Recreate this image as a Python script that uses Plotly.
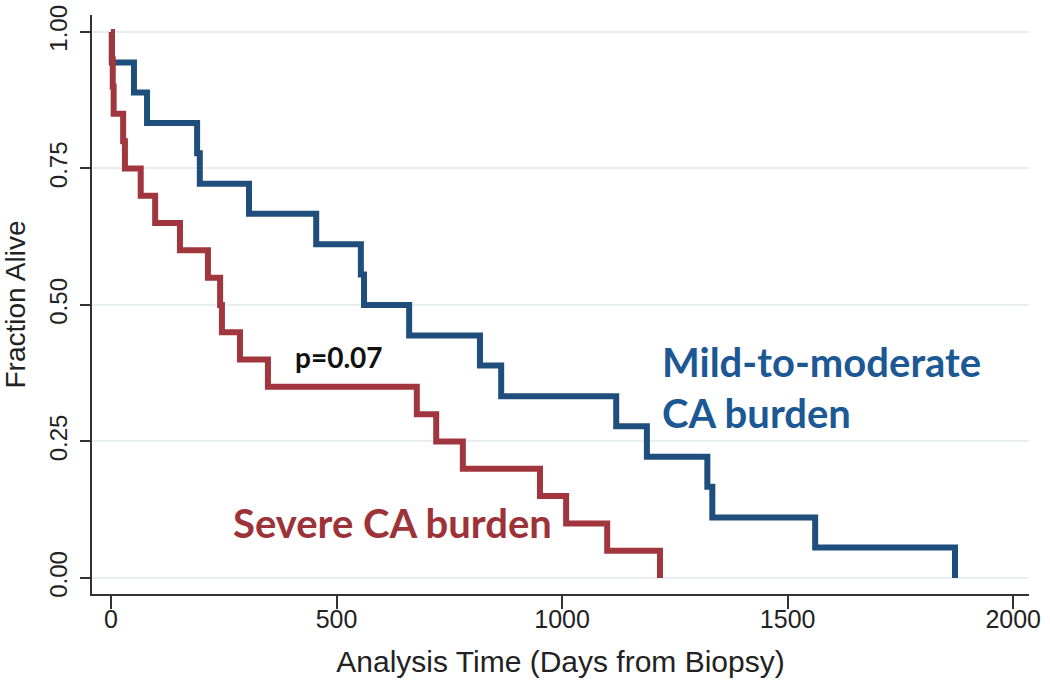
import plotly.graph_objects as go

# Mild-to-moderate CA burden (blue) Kaplan-Meier steps
mild_days = [0, 2, 51, 80, 191, 197, 306, 455, 554, 561, 661, 818, 865, 1120, 1188, 1322, 1333, 1561, 1871]
mild_surv = [1.0, 0.944, 0.889, 0.833, 0.778, 0.722, 0.667, 0.611, 0.556, 0.5, 0.444, 0.389, 0.333, 0.278, 0.222, 0.167, 0.111, 0.056, 0.0]

# Severe CA burden (red) Kaplan-Meier steps
severe_days = [0, 2, 4, 6, 27, 31, 66, 98, 153, 215, 242, 246, 286, 348, 678, 721, 780, 951, 1009, 1100, 1217]
severe_surv = [1.0, 0.95, 0.90, 0.85, 0.80, 0.75, 0.70, 0.65, 0.60, 0.55, 0.50, 0.45, 0.40, 0.35, 0.30, 0.25, 0.20, 0.15, 0.10, 0.05, 0.0]

x_ticks = [0, 500, 1000, 1500, 2000]
y_ticks = [0.0, 0.25, 0.5, 0.75, 1.0]
y_tick_labels = ["0.00", "0.25", "0.50", "0.75", "1.00"]

BLUE = "#1f4e7c"
RED = "#a2363e"
TXT_BLUE = "#1c5893"
TXT_RED = "#9e3239"
AX_FONT = "Liberation Sans, Arial, sans-serif"
ANN_FONT = "Lato, Open Sans, sans-serif"

fig = go.Figure()
fig.add_trace(go.Scatter(x=mild_days, y=mild_surv, mode="lines", line_shape="hv",
                         line=dict(color=BLUE, width=6), showlegend=False))
fig.add_trace(go.Scatter(x=severe_days, y=severe_surv, mode="lines", line_shape="hv",
                         line=dict(color=RED, width=6), showlegend=False))

fig.add_annotation(x=404, y=0.405, text="<b>p=0.07</b>", showarrow=False, xanchor="left",
                   yanchor="middle", font=dict(family=ANN_FONT, size=28, color="#111111"))
fig.add_annotation(x=1218, y=0.396, text="<b>Mild-to-moderate</b>", showarrow=False, xanchor="left",
                   yanchor="middle", font=dict(family=ANN_FONT, size=40, color=TXT_BLUE))
fig.add_annotation(x=1218, y=0.302, text="<b>CA burden</b>", showarrow=False, xanchor="left",
                   yanchor="middle", font=dict(family=ANN_FONT, size=40, color=TXT_BLUE))
fig.add_annotation(x=266, y=0.10, text="<b>Severe CA burden</b>", showarrow=False, xanchor="left",
                   yanchor="middle", font=dict(family=ANN_FONT, size=40, color=TXT_RED))

fig.update_layout(
    width=1050, height=689,
    margin=dict(l=92, r=21, t=15, b=95),
    paper_bgcolor="white", plot_bgcolor="white",
    xaxis=dict(range=[-42, 2035], tickvals=x_ticks, ticks="outside", ticklen=13, tickwidth=1.5,
               tickcolor="#333333", showline=True, linecolor="#333333", linewidth=1.5,
               showgrid=False, zeroline=False, automargin=False, ticklabelstandoff=-11,
               ticklabeloverflow="allow",
               tickfont=dict(family=AX_FONT, size=25, color="#222222"),
               title=dict(text="Analysis Time (Days from Biopsy)", standoff=19,
                          font=dict(family=AX_FONT, size=30, color="#222222"))),
    yaxis=dict(range=[-0.0293, 1.031], tickvals=y_ticks, ticktext=y_tick_labels, tickangle=-90,
               ticks="outside", ticklen=10, tickwidth=1.5, tickcolor="#333333",
               showline=True, linecolor="#333333", linewidth=1.5, automargin=False,
               ticklabeloverflow="allow", ticklabelstandoff=4,
               showgrid=True, gridcolor="#e9eef1", gridwidth=2, zeroline=False,
               tickfont=dict(family=AX_FONT, size=24, color="#222222"),
               title=dict(text="Fraction Alive", standoff=11,
                          font=dict(family=AX_FONT, size=28, color="#222222"))),
)

fig.write_html("out.html", config={"displayModeBar": False},
               post_script="document.body.style.margin='0px';document.body.style.overflow='hidden';")
